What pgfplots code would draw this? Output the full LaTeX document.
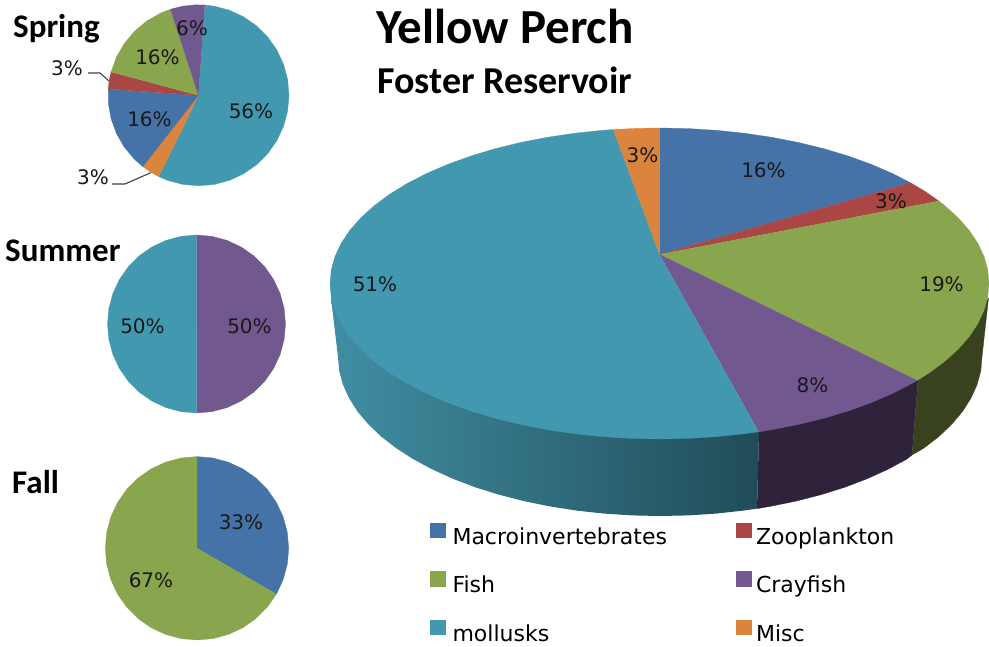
\documentclass[border=0pt]{standalone}
\usepackage{fontspec}
\usepackage{pgfplots}
\pgfplotsset{compat=1.18}
\setmainfont{Carlito}
\newfontfamily\labelfont{DejaVu Sans}

\definecolor{cBlue}{HTML}{4572A7}
\definecolor{cRed}{HTML}{AA4643}
\definecolor{cGreen}{HTML}{89A54E}
\definecolor{cPurple}{HTML}{71588F}
\definecolor{cTeal}{HTML}{4198AF}
\definecolor{cOrange}{HTML}{DB843D}
\definecolor{wallTealL}{RGB}{64,142,163}
\definecolor{wallTealR}{RGB}{33,76,88}
\definecolor{wallPurple}{RGB}{46,35,58}
\definecolor{wallGreen}{RGB}{57,66,30}

\pgfplotsset{
  pix/.style={hide axis, scale only axis, width=989pt, height=646pt,
    at={(0pt,0pt)}, anchor=south west, clip=false,
    xmin=0, xmax=989, ymin=0, ymax=646, y dir=reverse},
  pie/.style={hide axis, scale only axis, anchor=center, clip=false,
    xmin=-1, xmax=1, ymin=-1, ymax=1},
  slice/.style={fill=#1, draw=#1, line width=0.3pt, data cs=polar},
}
\newcommand{\lab}[3]{\node[font=\labelfont\fontsize{20}{24}\selectfont, text=black!90, inner sep=0pt] at (axis cs:#1,#2) {#3\%};}
\newcommand{\ttl}[4]{\node[font=\bfseries\fontsize{#4}{#4}\selectfont, anchor=base west, inner sep=0pt] at (axis cs:#1,#2) {#3};}

\begin{document}
\begin{tikzpicture}
\useasboundingbox (0pt,0pt) rectangle (989pt,646pt);

% side wall of the big pie, pixel coordinates
\begin{axis}[pix]
\addplot[left color=wallTealL, right color=wallTealR, draw=none] coordinates {
  (331,298) (338,357) (339.2,370.9) (342.9,384.6) (349,398.1) (357.4,411.4) (368.2,424.2)
  (381.1,436.5) (396.2,448.2) (413.3,459.2) (432.3,469.4) (453,478.8) (475.3,487.3)
  (499,494.7) (523.9,501.1) (549.9,506.4) (576.7,510.6) (604.1,513.6) (631.9,515.4)
  (660,516) (688.1,515.4) (715.9,513.6) (743.3,510.6) (757,508.6) (759,432) (660,300)
};
\addplot[fill=wallPurple, draw=wallPurple, line width=0.3pt] coordinates {
  (757,508.6) (770.1,506.4) (796.1,501.1) (821,494.7) (844.7,487.3) (867,478.8)
  (887.7,469.4) (906.7,459.2) (912,455) (918,380) (759,432)
};
\addplot[fill=wallGreen, draw=wallGreen, line width=0.3pt] coordinates {
  (912,455) (923.8,448.2) (938.9,436.5) (951.8,424.2) (962.6,411.4) (971,398.1)
  (977.1,384.6) (980.8,370.9) (982,357) (988.5,298) (918,380)
};
\end{axis}

% top face of the big pie
\begin{axis}[pie, at={(659.5pt,362.5pt)}, width=659pt, height=311pt]
\addplot[slice=cBlue] coordinates {
  (90,0.1865) (90,1) (85,1) (80,1) (75,1) (70,1) (65,1) (60,1) (55,1) (50,1) (45,1) (40.3,1)
};
\addplot[slice=cRed] coordinates {
  (90,0.1865) (40.3,1) (36,1) (32,1)
};
\addplot[slice=cGreen] coordinates {
  (90,0.1865) (32,1) (30,1) (25,1) (20,1) (15,1) (10,1) (5,1) (0,1) (-5,1) (-10,1) (-15,1)
  (-20,1) (-25,1) (-30,1) (-35,1) (-38.6,1)
};
\addplot[slice=cPurple] coordinates {
  (90,0.1865) (-38.6,1) (-40,1) (-45,1) (-50,1) (-55,1) (-60,1) (-65,1) (-70,1) (-72.5,1)
};
\addplot[slice=cTeal] coordinates {
  (90,0.1865) (98.1,1) (100,1) (105,1) (110,1) (115,1) (120,1) (125,1) (130,1) (135,1) (140,1)
  (145,1) (150,1) (155,1) (160,1) (165,1) (170,1) (175,1) (180,1) (185,1) (190,1) (195,1)
  (200,1) (205,1) (210,1) (215,1) (220,1) (225,1) (230,1) (235,1) (240,1) (245,1) (250,1)
  (255,1) (260,1) (265,1) (270,1) (275,1) (280,1) (285,1) (287.5,1)
};
\addplot[slice=cOrange] coordinates {
  (90,0.1865) (90,1) (94,1) (98.1,1)
};
\end{axis}

% Spring
\begin{axis}[pie, at={(198.5pt,550.7pt)}, width=181pt, height=181pt]
\addplot[slice=cTeal] coordinates {
  (0,0) (86,1) (80,1) (70,1) (60,1) (50,1) (40,1) (30,1) (20,1) (10,1) (0,1) (-10,1) (-20,1)
  (-30,1) (-40,1) (-50,1) (-60,1) (-70,1) (-80,1) (-90,1) (-100,1) (-110,1) (-116,1)
};
\addplot[slice=cOrange] coordinates {(0,0) (-116,1) (-122,1) (-128,1)};
\addplot[slice=cBlue] coordinates {
  (0,0) (-128,1) (-135,1) (-145,1) (-155,1) (-165,1) (-175,1) (-184,1)
};
\addplot[slice=cRed] coordinates {(0,0) (-184,1) (-190,1) (-195,1)};
\addplot[slice=cGreen] coordinates {
  (0,0) (-195,1) (-205,1) (-215,1) (-225,1) (-235,1) (-245,1) (-252,1)
};
\addplot[slice=cPurple] coordinates {(0,0) (-252,1) (-260,1) (-268,1) (-274,1)};
\end{axis}

% Summer
\begin{axis}[pie, at={(196.5pt,322pt)}, width=178pt, height=178pt]
\addplot[slice=cPurple] coordinates {
  (0,0) (90,1) (80,1) (70,1) (60,1) (50,1) (40,1) (30,1) (20,1) (10,1) (0,1) (-10,1) (-20,1)
  (-30,1) (-40,1) (-50,1) (-60,1) (-70,1) (-80,1) (-90,1)
};
\addplot[slice=cTeal] coordinates {
  (0,0) (-90,1) (-100,1) (-110,1) (-120,1) (-130,1) (-140,1) (-150,1) (-160,1) (-170,1) (-180,1)
  (-190,1) (-200,1) (-210,1) (-220,1) (-230,1) (-240,1) (-250,1) (-260,1) (-270,1)
};
\end{axis}

% Fall
\begin{axis}[pie, at={(197pt,97.7pt)}, width=183.4pt, height=183.4pt]
\addplot[slice=cBlue] coordinates {
  (0,0) (90,1) (80,1) (70,1) (60,1) (50,1) (40,1) (30,1) (20,1) (10,1) (0,1) (-10,1) (-20,1) (-30,1)
};
\addplot[slice=cGreen] coordinates {
  (0,0) (-30,1) (-40,1) (-50,1) (-60,1) (-70,1) (-80,1) (-90,1) (-100,1) (-110,1) (-120,1)
  (-130,1) (-140,1) (-150,1) (-160,1) (-170,1) (-180,1) (-190,1) (-200,1) (-210,1) (-220,1)
  (-230,1) (-240,1) (-250,1) (-260,1) (-270,1)
};
\end{axis}

% texts, leader lines, legend
\begin{axis}[pix,
  legend image code/.code={\fill[#1, draw=none] (0pt,-1pt) rectangle (15.5pt,14.5pt);},
  legend cell align=left,
  legend columns=2,
  legend style={at={(0.4348,0.1906)}, anchor=north west, draw=none, fill=none,
    font=\labelfont\fontsize{22}{26}\selectfont,
    inner sep=0pt, outer sep=0pt,
    nodes={inner sep=0pt, text height=16pt, text depth=2pt},
    /tikz/row sep=25pt,
    /tikz/column 1/.style={column sep=7pt},
    /tikz/column 2/.style={column sep=69pt},
    /tikz/column 3/.style={column sep=4.5pt}},
]
\addplot[draw=black!75, line width=1.1pt, forget plot] coordinates {(88,73) (100,73) (109,81)};
\addplot[draw=black!75, line width=1.1pt, forget plot] coordinates {(112,184) (125,184) (150.7,172.7)};
\addlegendimage{fill=cBlue}
\addlegendimage{fill=cRed}
\addlegendimage{fill=cGreen}
\addlegendimage{fill=cPurple}
\addlegendimage{fill=cTeal}
\addlegendimage{fill=cOrange}
\legend{Macroinvertebrates, Zooplankton, Fish, Crayfish, mollusks, Misc}

\ttl{376}{43}{Yellow Perch}{49}
\ttl{377}{93}{Foster Reservoir}{38}
\ttl{13}{37}{Spring}{33}
\ttl{5}{261}{Summer}{33}
\ttl{12}{493}{Fall}{33}

\lab{251}{111}{56}
\lab{157.5}{57}{16}
\lab{192}{28}{6}
\lab{149.5}{119}{16}
\lab{67}{68}{3}
\lab{93}{177}{3}
\lab{142.5}{326}{50}
\lab{249.5}{326}{50}
\lab{241}{522}{33}
\lab{151}{580}{67}
\lab{763.5}{170}{16}
\lab{891}{201}{3}
\lab{941.5}{284}{19}
\lab{812.5}{385}{8}
\lab{375}{284}{51}
\lab{642.5}{155}{3}
\end{axis}
\end{tikzpicture}
\end{document}
